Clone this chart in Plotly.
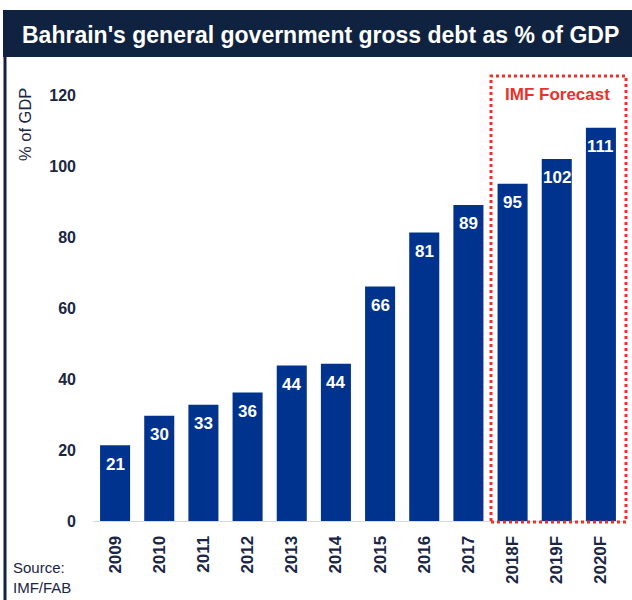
import plotly.graph_objects as go

years = ["2009", "2010", "2011", "2012", "2013", "2014", "2015", "2016", "2017", "2018F", "2019F", "2020F"]
debt = [21.4, 29.7, 32.8, 36.3, 43.9, 44.4, 66.2, 81.4, 89.2, 95.2, 102.2, 111.0]
yticks = [0, 20, 40, 60, 80, 100, 120]

NAVY = "#0f2341"
BAR = "#00338d"
TXT = "#1a2642"
RED = "#e8322b"
FONT = "Liberation Sans"

# plot area in pixels
L, R, T, B = 93, 623, 76, 521
W, H = 632, 600
def px(x):
    return (x - L) / (R - L)
def py(y):
    return (B - y) / (B - T)

fig = go.Figure(go.Bar(
    x=years, y=debt, marker_color=BAR, marker_line_width=0, hoverinfo="x+y",
))

for i, v in enumerate(debt):
    fig.add_annotation(x=i, y=v, yshift=-19, showarrow=False, text=f"<b>{v:.0f}</b>",
                       font=dict(size=17, color="white", family=FONT),
                       xanchor="center", yanchor="middle")

fig.update_layout(
    width=W, height=H, paper_bgcolor="white", plot_bgcolor="white",
    margin=dict(l=L, r=W - R, t=T, b=H - B), bargap=0.32, showlegend=False,
    font=dict(family=FONT, color=TXT),
    xaxis=dict(type="category", tickangle=-90, tickfont=dict(size=17, color=TXT, family=FONT),
               tickvals=years, ticktext=[f"<b>{y}</b>" for y in years],
               showline=True, linecolor="#d9d9d9", linewidth=1, ticks="",
               ticklabelstandoff=7, range=[-0.5, 11.5]),
    yaxis=dict(range=[0, 125.6], tickvals=yticks, ticktext=[f"<b>{t}</b>" for t in yticks],
               showgrid=False, zeroline=False, showline=False, ticks="", ticklabelstandoff=16,
               tickfont=dict(size=16, color=TXT, family=FONT)),
)

shapes = [
    dict(type="rect", xref="paper", yref="paper", x0=px(3), x1=px(633), y0=py(57), y1=py(10),
         fillcolor=NAVY, line_width=0, layer="above"),
    dict(type="line", xref="paper", yref="paper", x0=px(5), x1=px(5), y0=py(57), y1=py(601),
         line=dict(color=NAVY, width=3)),
    dict(type="rect", xref="paper", yref="paper", x0=px(491), x1=px(626), y0=py(522), y1=py(76),
         line=dict(color=RED, width=3, dash="dot"), fillcolor="rgba(0,0,0,0)"),
]
fig.update_layout(shapes=shapes)

fig.add_annotation(xref="paper", yref="paper", x=px(320), y=py(35), showarrow=False,
                   text="<b>Bahrain's general government gross debt as % of GDP</b>",
                   font=dict(size=23, color="white", family=FONT), xanchor="center", yanchor="middle")
fig.add_annotation(xref="paper", yref="paper", x=px(557), y=py(94), showarrow=False,
                   text="<b>IMF Forecast</b>", font=dict(size=17, color=RED, family=FONT),
                   xanchor="center", yanchor="middle")
fig.add_annotation(xref="paper", yref="paper", x=px(25), y=py(125), showarrow=False,
                   text="% of GDP", textangle=-90, font=dict(size=16.5, color=TXT, family=FONT),
                   xanchor="center", yanchor="middle")
fig.add_annotation(xref="paper", yref="paper", x=px(11), y=py(598), showarrow=False,
                   text="Source:<br>IMF/FAB", align="left", font=dict(size=15, color=TXT, family=FONT),
                   xanchor="left", yanchor="bottom")

fig.write_html("out.html")
